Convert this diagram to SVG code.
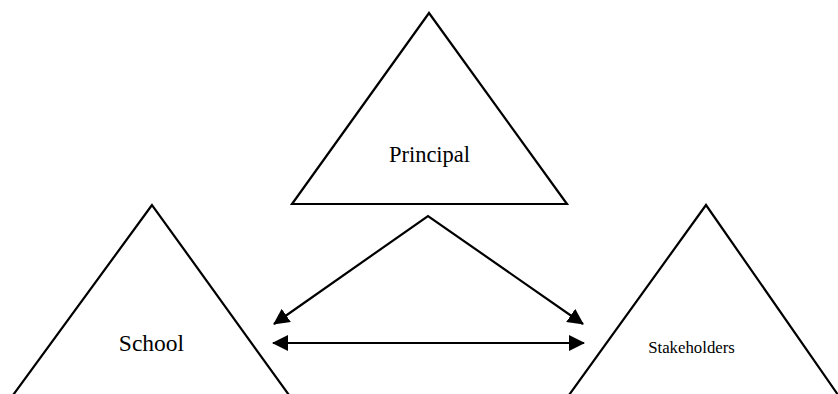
<svg xmlns="http://www.w3.org/2000/svg" width="838" height="394" viewBox="0 0 838 394">
  <defs>
    <style>
      .tri { fill: #ffffff; stroke: #000000; stroke-width: 2.2; stroke-linejoin: miter; }
      .lbl { fill: #000000; text-anchor: middle; }
      .conn { stroke: #000000; stroke-width: 2.2; fill: none; }
    </style>
    <marker id="ah" viewBox="0 0 16 16" refX="15" refY="8" markerWidth="16" markerHeight="16" markerUnits="userSpaceOnUse" orient="auto-start-reverse">
      <path d="M0,0 L16,8 L0,16 Z" fill="#000000"/>
    </marker>
  </defs>
  <rect width="838" height="394" fill="#ffffff"/>
  <g id="principal">
    <polygon class="tri" points="429,13 292,204 567,204"/>
    <text class="lbl" x="429.5" y="162" font-family="Liberation Serif, DejaVu Serif, serif" font-size="22.5">Principal</text>
  </g>
  <g id="school">
    <polygon class="tri" points="152,205 8,402 294,402"/>
    <text class="lbl" x="151.5" y="351" font-family="Liberation Serif, DejaVu Serif, serif" font-size="23.5">School</text>
  </g>
  <g id="stakeholders">
    <polygon class="tri" points="706,205 564,402 843,402"/>
    <text class="lbl" x="691.5" y="353" font-family="Liberation Serif, DejaVu Serif, serif" font-size="16.8">Stakeholders</text>
  </g>
  <g id="connectors">
    <polyline class="conn" points="274,324 428,216 583,324" marker-start="url(#ah)" marker-end="url(#ah)"/>
    <line class="conn" x1="273" y1="343" x2="584" y2="343" marker-start="url(#ah)" marker-end="url(#ah)"/>
  </g>
</svg>
